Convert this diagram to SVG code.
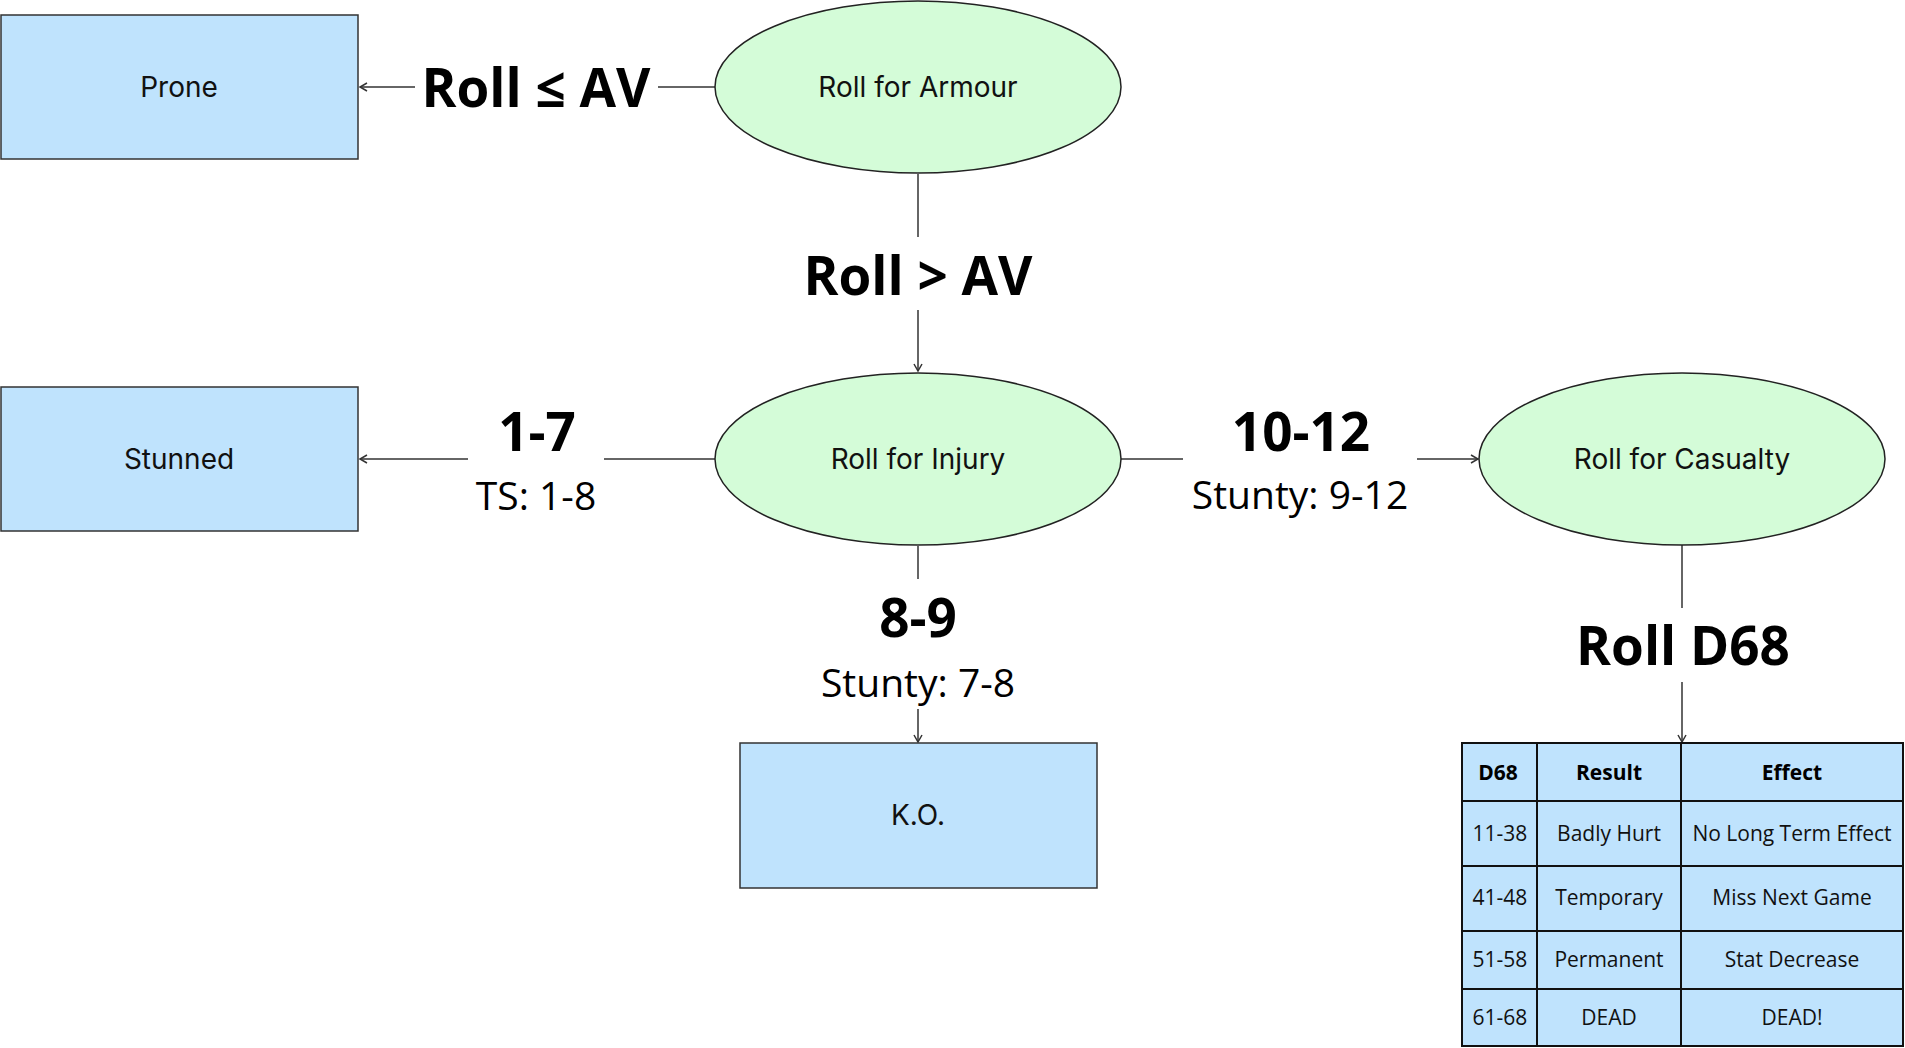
<svg xmlns="http://www.w3.org/2000/svg" width="1905" height="1048" viewBox="0 0 1905 1048">
<style>
.box{fill:#BFE3FD;stroke:#333;stroke-width:1.5}
.ell{fill:#D4FCD8;stroke:#222;stroke-width:1.5}
.nt{font-family:Inter,"DejaVu Sans",sans-serif;font-size:28px;fill:#111;text-anchor:middle}
.lb{font-family:"Open Sans","Noto Sans",sans-serif;font-size:53px;font-weight:bold;fill:#000;text-anchor:middle}
.ls{font-family:"Open Sans","Noto Sans",sans-serif;font-size:39px;fill:#000;text-anchor:middle}
.con{stroke:#333;stroke-width:1.5;fill:none}
.tb{fill:#BFE3FD;stroke:#111;stroke-width:2}
.tl{stroke:#111;stroke-width:2}
.tt{font-family:"Open Sans","Noto Sans",sans-serif;font-size:21px;fill:#111;text-anchor:middle}
.th{font-family:"Open Sans","Noto Sans",sans-serif;font-size:21px;font-weight:bold;fill:#000;text-anchor:middle}
</style>
<defs>
<marker id="arr" markerUnits="userSpaceOnUse" markerWidth="10" markerHeight="10" refX="8" refY="5" orient="auto">
<path d="M1,1 L8,5 L1,9" fill="none" stroke="#333" stroke-width="1.5"/>
</marker>
</defs>
<g id="connectors">
<path class="con" d="M716 87 H658"/>
<path class="con" d="M415 87 H360" marker-end="url(#arr)"/>
<path class="con" d="M918 174 V237"/>
<path class="con" d="M918 310 V371" marker-end="url(#arr)"/>
<path class="con" d="M716 459 H604"/>
<path class="con" d="M468 459 H360" marker-end="url(#arr)"/>
<path class="con" d="M1120 459 H1183"/>
<path class="con" d="M1417 459 H1478" marker-end="url(#arr)"/>
<path class="con" d="M918 546 V579"/>
<path class="con" d="M918 709 V742" marker-end="url(#arr)"/>
<path class="con" d="M1682 545 V608"/>
<path class="con" d="M1682 682 V742" marker-end="url(#arr)"/>
</g>
<g id="labels">
<text class="lb" x="536" y="107">Roll ≤ AV</text>
<text class="lb" x="918" y="295">Roll &gt; AV</text>
<text class="lb" x="537" y="451">1-7</text>
<text class="ls" x="536" y="510">TS: 1-8</text>
<text class="lb" x="1301" y="451">10-12</text>
<text class="ls" x="1300" y="509">Stunty: 9-12</text>
<text class="lb" x="918" y="637">8-9</text>
<text class="ls" x="918" y="697">Stunty: 7-8</text>
<text class="lb" x="1683" y="665">Roll D68</text>
</g>
<g id="prone">
<rect class="box" x="1" y="15" width="357" height="144"/>
<text class="nt" x="179" y="97">Prone</text>
</g>
<g id="armour">
<ellipse class="ell" cx="918" cy="87" rx="203" ry="86"/>
<text class="nt" x="918" y="97">Roll for Armour</text>
</g>
<g id="stunned">
<rect class="box" x="1" y="387" width="357" height="144"/>
<text class="nt" x="179" y="469">Stunned</text>
</g>
<g id="injury">
<ellipse class="ell" cx="918" cy="459" rx="203" ry="86"/>
<text class="nt" x="918" y="469">Roll for Injury</text>
</g>
<g id="casualty">
<ellipse class="ell" cx="1682" cy="459" rx="203" ry="86"/>
<text class="nt" x="1682" y="469">Roll for Casualty</text>
</g>
<g id="ko">
<rect class="box" x="740" y="743" width="357" height="145"/>
<text class="nt" x="918" y="825">K.O.</text>
</g>
<g id="table">
<rect class="tb" x="1462" y="743" width="441" height="303"/>
<line class="tl" x1="1537" y1="743" x2="1537" y2="1046"/>
<line class="tl" x1="1681" y1="743" x2="1681" y2="1046"/>
<line class="tl" x1="1462" y1="801" x2="1903" y2="801"/>
<line class="tl" x1="1462" y1="866" x2="1903" y2="866"/>
<line class="tl" x1="1462" y1="931" x2="1903" y2="931"/>
<line class="tl" x1="1462" y1="989" x2="1903" y2="989"/>
<text class="th" x="1498" y="780">D68</text>
<text class="th" x="1609" y="780">Result</text>
<text class="th" x="1792" y="780">Effect</text>
<text class="tt" x="1500" y="841">11-38</text>
<text class="tt" x="1609" y="841">Badly Hurt</text>
<text class="tt" x="1792" y="841">No Long Term Effect</text>
<text class="tt" x="1500" y="905">41-48</text>
<text class="tt" x="1609" y="905">Temporary</text>
<text class="tt" x="1792" y="905">Miss Next Game</text>
<text class="tt" x="1500" y="967">51-58</text>
<text class="tt" x="1609" y="967">Permanent</text>
<text class="tt" x="1792" y="967">Stat Decrease</text>
<text class="tt" x="1500" y="1025">61-68</text>
<text class="tt" x="1609" y="1025">DEAD</text>
<text class="tt" x="1792" y="1025">DEAD!</text>
</g>
</svg>
